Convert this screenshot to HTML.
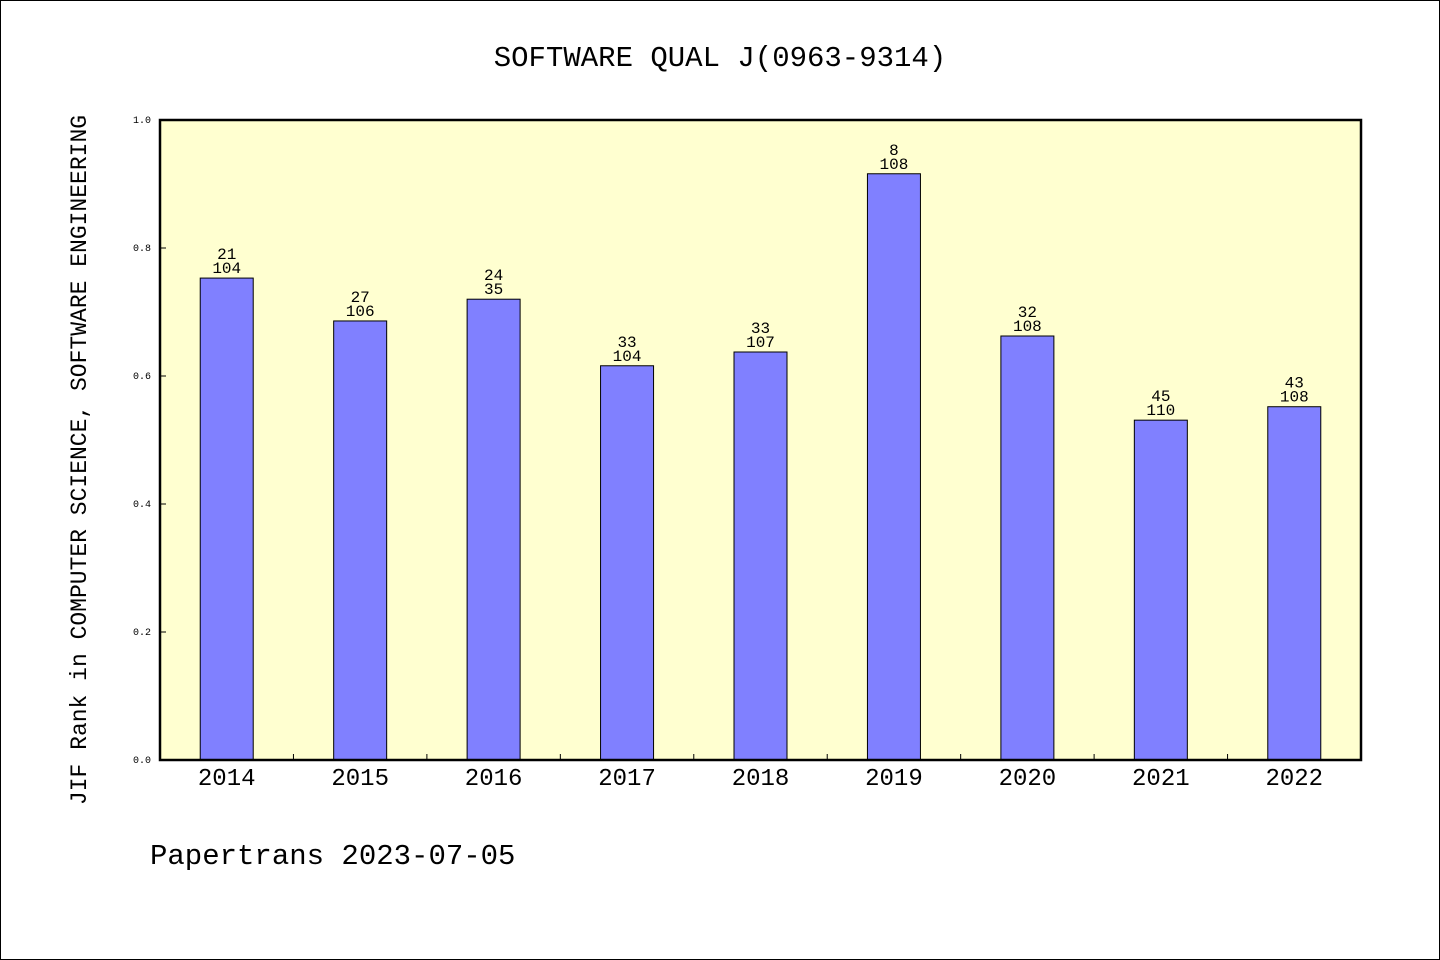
<!DOCTYPE html>
<html><head><meta charset="utf-8"><style>
body{margin:0;background:#fff}
svg{display:block}
text{font-family:"WenQuanYi Zen Hei","Liberation Mono",monospace;fill:#000}
</style></head><body>
<svg width="1440" height="960" viewBox="0 0 1440 960">
<rect x="0.5" y="0.5" width="1439" height="959" fill="#fff" stroke="#000"/>
<text x="720" y="66" font-size="29" text-anchor="middle">SOFTWARE QUAL J(0963-9314)</text>
<rect x="160" y="120" width="1201" height="640" fill="#ffffd0"/>
<g id="bars"></g>
<rect x="160" y="120" width="1201" height="640" fill="none" stroke="#000" stroke-width="2.5"/>
<text transform="translate(86,460) rotate(-90)" font-size="23" text-anchor="middle">JIF Rank in COMPUTER SCIENCE, SOFTWARE ENGINEERING</text>
<text x="150" y="864" font-size="29">Papertrans 2023-07-05</text>
</svg>
<script>
const categories=["2014","2015","2016","2017","2018","2019","2020","2021","2022"];
const values=[0.753,0.686,0.720,0.616,0.6375,0.916,0.6625,0.531,0.552];
const ranks=["21","27","24","33","33","8","32","45","43"];
const totals=["104","106","35","104","107","108","108","110","108"];
const yTicks=["0.0","0.2","0.4","0.6","0.8","1.0"];
const NS="http://www.w3.org/2000/svg";
const svg=document.querySelector('svg'),g=document.getElementById('bars');
const x0=160,x1=1361,y0=760,y1=120;
const band=(x1-x0)/categories.length;
const xc=i=>x0+band*(i+0.5);
const ys=v=>y0-(y0-y1)*v;
function mk(t,a,p){const e=document.createElementNS(NS,t);for(const k in a)e.setAttribute(k,a[k]);(p||g).appendChild(e);return e;}
categories.forEach((c,i)=>{
 const r=mk('rect',{x:xc(i)-26.5,y:ys(values[i]),width:53,height:y0-ys(values[i]),fill:'#8080ff',stroke:'#000','stroke-width':1});
 
 
 const t1=mk('text',{x:xc(i),y:ys(values[i])-19,'font-size':16,'text-anchor':'middle'});t1.textContent=ranks[i];
 
 
 const t2=mk('text',{x:xc(i),y:ys(values[i])-5,'font-size':16,'text-anchor':'middle'});t2.textContent=totals[i];
 
 
 const xl=mk('text',{x:xc(i),y:785,'font-size':24,'text-anchor':'middle'});xl.textContent=c;
 
 
 if(i>0){const tk=mk('line',{x1:x0+band*i,x2:x0+band*i,y1:y0,y2:y0-6,stroke:'#000'});
 
 }
});
yTicks.forEach(s=>{
 const v=parseFloat(s);
 const l=mk('line',{x1:x0,x2:x0+6,y1:ys(v),y2:ys(v),stroke:'#000'});
 
 
 const t=mk('text',{x:151,y:ys(v)+3,'font-size':10,'text-anchor':'end'});t.textContent=s;
 
 
});
</script>
</body></html>
